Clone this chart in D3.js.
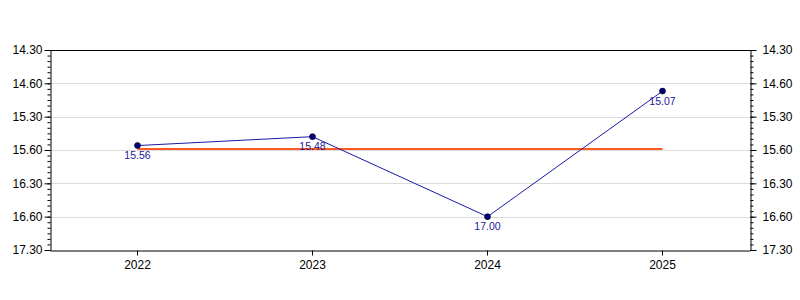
<!DOCTYPE html>
<html>
<head>
<meta charset="utf-8">
<script src="https://cdn.jsdelivr.net/npm/d3@7"></script>
<style>
  html, body { margin: 0; padding: 0; background: #fff; }
  svg { display: block; font-family: "Liberation Sans", Arial, sans-serif; }
</style>
</head>
<body>
<svg id="chart" width="800" height="300"></svg>
<script>
// Categories (years)
const years = ["2022", "2023", "2024", "2025"];
// Series values as shown on the chart (minutes.seconds)
const timeLabels = ["15.56", "15.48", "17.00", "15.07"];
// Reference (orange) line value, minutes.seconds
const targetLabel = "15.59";
// Y axis tick values (minutes.seconds) and their printed labels
const tickValuesMS = ["14.30", "15.00", "15.30", "16.00", "16.30", "17.00", "17.30"];
const tickLabels = ["14.30", "14.60", "15.30", "15.60", "16.30", "16.60", "17.30"];

function msToMin(s) {
  const [m, sec] = s.split(".").map(Number);
  return m + sec / 60;
}

const values = timeLabels.map(msToMin);
const targetValue = msToMin(targetLabel);
const tickValues = tickValuesMS.map(msToMin);

const svg = d3.select("#chart");
const margin = { left: 50, right: 50, top: 50, bottom: 50 };
const W = 800, H = 300;

const x = d3.scaleBand().domain(years).range([margin.left, W - margin.right]);
const y = d3.scaleLinear()
  .domain([tickValues[0], tickValues[tickValues.length - 1]])
  .range([margin.top, H - margin.bottom]);

const minorTicks = d3.range(0, 37).map(i => tickValues[0] + i * (5 / 60));

// gridlines
svg.append("g")
  .selectAll("line")
  .data(tickValues.slice(1, -1))
  .join("line")
  .attr("x1", margin.left).attr("x2", W - margin.right)
  .attr("y1", d => Math.round(y(d)) + 0.5).attr("y2", d => Math.round(y(d)) + 0.5)
  .attr("stroke", "#dcdcdc").attr("stroke-width", 1);

// top border
svg.append("line")
  .attr("x1", margin.left).attr("x2", W - margin.right)
  .attr("y1", margin.top + 0.5).attr("y2", margin.top + 0.5)
  .attr("stroke", "#000");

const fmtLabel = (d) => tickLabels[tickValues.findIndex(t => Math.abs(t - d) < 1e-9)];

// left axis: minor ticks then major
const leftMinor = svg.append("g").attr("transform", `translate(${margin.left + 0.5},0)`)
  .call(d3.axisLeft(y).tickValues(minorTicks).tickSize(3).tickFormat(""));
leftMinor.select(".domain").remove();
const leftAxis = svg.append("g").attr("transform", `translate(${margin.left + 0.5},0)`)
  .call(d3.axisLeft(y).tickValues(tickValues).tickSize(6).tickSizeOuter(0).tickPadding(2).tickFormat(fmtLabel));

const rightMinor = svg.append("g").attr("transform", `translate(${W - margin.right + 0.5},0)`)
  .call(d3.axisRight(y).tickValues(minorTicks).tickSize(3).tickFormat(""));
rightMinor.select(".domain").remove();
const rightAxis = svg.append("g").attr("transform", `translate(${W - margin.right + 0.5},0)`)
  .call(d3.axisRight(y).tickValues(tickValues).tickSize(6).tickSizeOuter(0).tickPadding(6).tickFormat(fmtLabel));

[leftAxis, rightAxis].forEach(g => {
  g.selectAll("text").attr("font-size", 12).attr("fill", "#000").attr("font-family", "Liberation Sans, Arial, sans-serif");
});
svg.selectAll(".tick line").attr("stroke", "#000");
svg.selectAll(".domain").attr("stroke", "#000");

// bottom axis
const bottomAxis = svg.append("g").attr("transform", `translate(0,${H - margin.bottom + 0.5})`)
  .call(d3.axisBottom(x).tickSize(5).tickSizeOuter(0).tickPadding(5));
bottomAxis.selectAll("text").attr("font-size", 12).attr("fill", "#000").attr("font-family", "Liberation Sans, Arial, sans-serif");
bottomAxis.selectAll("line").attr("stroke", "#000");
bottomAxis.select(".domain").attr("stroke", "#000");

const cx = d => x(d) + x.bandwidth() / 2;

// orange reference line
svg.append("line")
  .attr("x1", cx(years[0])).attr("x2", cx(years[years.length - 1]))
  .attr("y1", y(targetValue)).attr("y2", y(targetValue))
  .attr("stroke", "#ff5a1f").attr("stroke-width", 2);

// series line
const pts = years.map((yr, i) => ({ yr, v: values[i], label: timeLabels[i] }));
svg.append("path")
  .datum(pts)
  .attr("fill", "none")
  .attr("stroke", "#1a1aa6")
  .attr("stroke-width", 1)
  .attr("d", d3.line().x(d => cx(d.yr)).y(d => y(d.v)));

svg.append("g").selectAll("circle")
  .data(pts)
  .join("circle")
  .attr("cx", d => cx(d.yr)).attr("cy", d => y(d.v))
  .attr("r", 3)
  .attr("fill", "#000080")
  .attr("stroke", "#000")
  .attr("stroke-width", 0.6);

svg.append("g").selectAll("text")
  .data(pts)
  .join("text")
  .attr("x", d => cx(d.yr)).attr("y", d => y(d.v) + 13.5)
  .attr("text-anchor", "middle")
  .attr("font-size", 10.5)
  .attr("fill", "#1a1a9a")
  .text(d => d.label);
</script>
</body>
</html>
